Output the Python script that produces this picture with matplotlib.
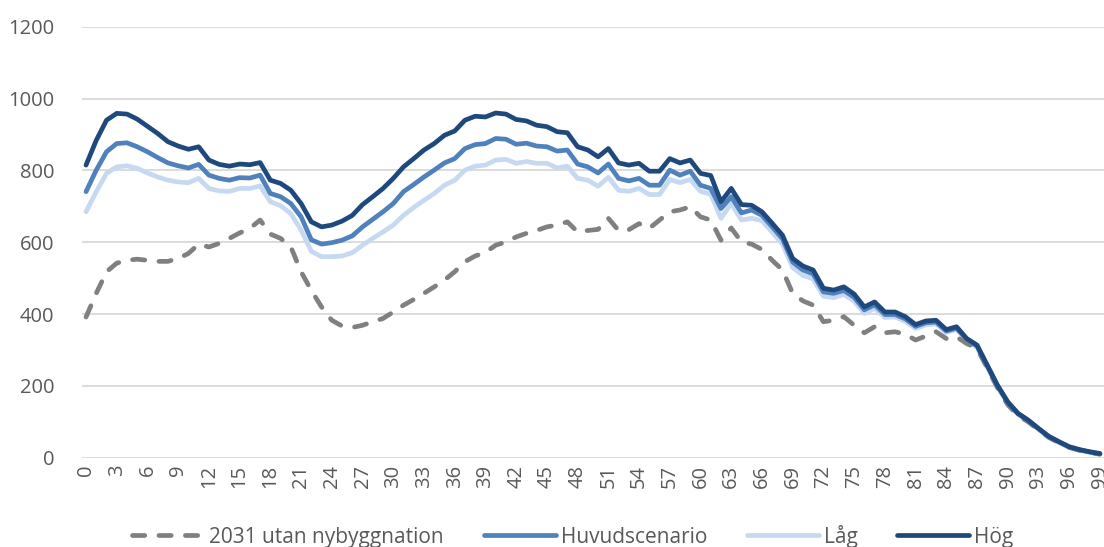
import numpy as np
import matplotlib
matplotlib.use("Agg")
import matplotlib.pyplot as plt

# ages 0..99
ages = np.arange(100)

utan_nybygg = [392, 458, 518, 542, 550, 553, 550, 547, 547, 555,
               569, 595, 587, 597, 611, 626, 639, 662, 623, 611,
               587, 518, 466, 420, 383, 367, 363, 369, 379, 388,
               406, 425, 441, 458, 476, 495, 518, 546, 562, 572,
               592, 601, 615, 625, 633, 643, 648, 657, 629, 633,
               636, 667, 633, 635, 652, 639, 662, 685, 690, 699,
               671, 662, 606, 640, 601, 595, 580, 550, 523, 458,
               437, 425, 379, 383, 393, 369, 348, 365, 348, 351,
               344, 328, 339, 351, 332, 337, 318, 305, 250, 195,
               148, 118, 100, 78, 57, 42, 29, 21, 15, 10]

huvud = [741, 801, 852, 875, 877, 866, 852, 836, 821, 813,
         807, 817, 787, 778, 773, 780, 779, 787, 736, 727,
         708, 671, 607, 595, 599, 606, 618, 643, 664, 685,
         708, 741, 761, 782, 801, 821, 833, 861, 872, 875,
         889, 887, 873, 876, 868, 866, 854, 857, 818, 810,
         793, 818, 778, 771, 778, 759, 759, 801, 787, 798,
         759, 750, 694, 727, 682, 690, 675, 643, 610, 545,
         523, 512, 462, 458, 466, 447, 412, 426, 399, 399,
         387, 366, 376, 378, 353, 361, 330, 311, 256, 200,
         154, 123, 104, 81, 59, 44, 30, 22, 16, 11]

lag = [685, 741, 792, 810, 813, 806, 793, 782, 773, 768,
       766, 778, 750, 743, 742, 750, 750, 757, 713, 702,
       680, 634, 575, 560, 560, 562, 571, 592, 611, 629,
       648, 675, 697, 717, 736, 759, 773, 801, 812, 815,
       829, 831, 820, 825, 820, 820, 807, 812, 778, 773,
       756, 781, 745, 742, 750, 733, 733, 775, 766, 775,
       742, 734, 667, 708, 662, 667, 660, 628, 595, 530,
       508, 498, 450, 446, 455, 436, 402, 416, 391, 392,
       380, 360, 370, 373, 349, 358, 327, 308, 253, 198,
       152, 121, 102, 80, 58, 43, 30, 22, 16, 11]

hog = [815, 884, 940, 959, 957, 943, 923, 903, 880, 868,
       859, 866, 829, 817, 812, 818, 816, 822, 773, 764,
       745, 708, 657, 643, 648, 659, 675, 705, 727, 750,
       778, 810, 833, 857, 875, 898, 910, 940, 951, 949,
       960, 957, 942, 938, 926, 922, 908, 905, 866, 857,
       838, 861, 821, 815, 820, 798, 798, 833, 821, 829,
       792, 786, 713, 750, 705, 703, 685, 653, 620, 555,
       534, 523, 472, 467, 476, 456, 420, 434, 406, 406,
       393, 371, 381, 383, 357, 365, 332, 314, 258, 202,
       156, 124, 105, 82, 60, 45, 31, 23, 17, 12]

yticks = [0, 200, 400, 600, 800, 1000, 1200]
xticks = ages[::3]

plt.rcParams['font.family'] = ['Open Sans', 'DejaVu Sans']

fig = plt.figure(figsize=(11.04, 5.47), dpi=100)
ax = fig.add_axes([0.0743, 0.163, 0.9257, 0.788])

lw = 3.4
ax.plot(ages, utan_nybygg, color='#808080', lw=lw, dashes=(2.6, 3.0),
        dash_capstyle='round', label='2031 utan nybyggnation')
ax.plot(ages, huvud, color='#4F81BD', lw=lw, solid_capstyle='round',
        label='Huvudscenario')
ax.plot(ages, lag, color='#C6D9F1', lw=lw, solid_capstyle='round', label='Låg')
ax.plot(ages, hog, color='#1F497D', lw=lw, solid_capstyle='round', label='Hög')

# the light series is drawn below the main one in the reference
ax.lines[2].set_zorder(1.9)

ax.set_xlim(-0.39, 99.4)
ax.set_ylim(0, 1200)
ax.set_yticks(yticks)
ax.set_xticks(xticks)
ax.set_xticklabels([str(a) for a in xticks], rotation=90)
ax.tick_params(axis='both', length=0, colors='#595959', labelsize=14.5)
ax.tick_params(axis='y', pad=20)
ax.tick_params(axis='x', pad=5)
ax.grid(axis='y', color='#D9D9D9', lw=1.3)
ax.set_axisbelow(True)
for s in ax.spines.values():
    s.set_visible(False)

fig.legend(loc='center', bbox_to_anchor=(0.519, 0.02), ncol=4, frameon=False,
           fontsize=15, handlelength=3.45, columnspacing=1.9, handletextpad=0.25,
           labelcolor='#595959')

fig.savefig("out.png", dpi=100)
